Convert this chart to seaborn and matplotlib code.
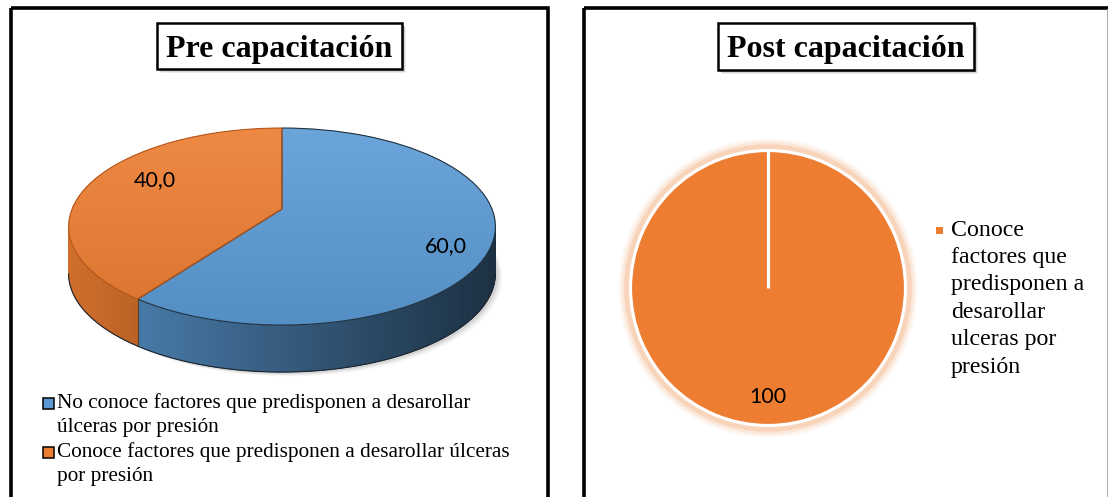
import numpy as np
import matplotlib
matplotlib.use("Agg")
import matplotlib.pyplot as plt
import seaborn as sns
from matplotlib.patches import Rectangle, Polygon, PathPatch
from matplotlib.transforms import Transform
from matplotlib.colors import to_rgb
import matplotlib.patheffects as pe

# ---------------- data ----------------
titles = ["Pre capacitación", "Post capacitación"]
pre_categories = ["No conoce factores que predisponen a desarollar\núlceras por presión",
                  "Conoce factores que predisponen a desarollar úlceras\npor presión"]
pre_values = [60.0, 40.0]
post_categories = ["Conoce\nfactores que\npredisponen a\ndesarollar\nulceras por\npresión"]
post_values = [100.0]

# ---------------- style ----------------
sns.set_theme(style="white")
palette = sns.color_palette(["#5B9BD5", "#ED7D31"])
plt.rcParams["font.family"] = ["Liberation Serif", "DejaVu Serif"]
LABEL_FONT = ["Lato", "DejaVu Sans"]

W, H = 1108, 497
fig = plt.figure(figsize=(W / 100, H / 100), dpi=100)
fig.patch.set_facecolor("white")


def px_axes():
    ax = fig.add_axes([0, 0, 1, 1])
    ax.patch.set_alpha(0)
    return ax


def fix(ax, ydown=False):
    ax.set_aspect("auto")
    ax.set_xlim(0, W)
    ax.set_ylim((H, 0) if ydown else (0, H))
    ax.axis("off")


class Persp(Transform):
    """Perspective view of a unit pie lying on a table (y = depth)."""
    input_dims = output_dims = 2
    is_separable = False
    has_inverse = False

    def __init__(self, cx, cy, rx, ry, k, drop=0.0):
        super().__init__()
        self.cx, self.cy, self.rx, self.ry, self.k, self.drop = cx, cy, rx, ry, k, drop

    def transform_non_affine(self, values):
        v = np.asarray(values, float).reshape(-1, 2)
        s = 1.0 + self.k * v[:, 1]
        return np.column_stack([self.cx + self.rx * v[:, 0] / s,
                                self.cy + self.ry * v[:, 1] / s - self.drop])


# ---------------- left: 3D pie ----------------
ax1 = px_axes()
K = 0.178
top = Persp(282, 288, 210, 95.4, K)
bottom = Persp(282, 288, 210, 95.4, K, drop=47)

wedges1, _, autotexts1 = ax1.pie(
    pre_values, colors=palette, startangle=90, counterclock=False,
    radius=1, center=(0, 0),
    autopct=lambda p: f"{p:.1f}".replace(".", ","),
    wedgeprops=dict(linewidth=0.8),
    textprops=dict(family=LABEL_FONT, fontsize=15.5, color="black"))
fix(ax1)

edge_cols = ["#22313f", "#b5561c"]
xmin_px, xmax_px = 68.0, 495.0


def shade(base, xpx):
    f = 0.88 - 0.57 * (xpx - xmin_px) / (xmax_px - xmin_px)
    f = float(np.clip(f, 0.3, 1.0))
    return tuple(np.clip(np.array(base) * f, 0, 1))


# soft shadow under the pie
tt = np.radians(np.linspace(0, 360, 361))
for dx, al in [(7, 0.04), (5, 0.06), (3, 0.08)]:
    sh = Persp(282 + dx, 288 - dx * 0.6, 210, 95.4, K, drop=47)
    pts = sh.transform(np.column_stack([np.cos(tt), np.sin(tt)]))
    ax1.add_patch(Polygon(pts, closed=True, facecolor="black", alpha=al,
                          edgecolor="none", zorder=1))

yy = np.linspace(0, 1, 256)[:, None]
for w, base, ec in zip(wedges1, palette, edge_cols):
    w.set_transform(top + ax1.transData)
    w.set_edgecolor("none")
    w.set_zorder(3)
    # gentle vertical gradient on the top face (lighter at the back)
    b = np.array(to_rgb(base))
    light, dark = b + (1 - b) * 0.10, b * 0.92
    grad = (light[None, None, :] * (1 - yy[..., None]) + dark[None, None, :] * yy[..., None])
    grad = np.repeat(grad, 2, axis=1)
    im = ax1.imshow(grad, extent=(60, 505, 170, 372), origin="upper",
                    aspect="auto", zorder=3.1, interpolation="bilinear")
    im.set_clip_path(w)
    ax1.add_patch(PathPatch(w.get_path(), transform=top + ax1.transData,
                            fill=False, edgecolor=ec, lw=0.8, zorder=3.3))
    # visible side wall
    t = np.radians(np.linspace(w.theta1, w.theta2, 721))
    t = t[np.sin(t) <= -K]
    if len(t) < 2:
        continue
    unit = np.column_stack([np.cos(t), np.sin(t)])
    tp = top.transform(unit)
    bp = bottom.transform(unit)
    step = 4
    for j in range(0, len(t) - 1, step):
        j2 = min(j + step + 1, len(t) - 1)
        quad = np.vstack([tp[j:j2 + 1], bp[j:j2 + 1][::-1]])
        col = shade(base, tp[j:j2 + 1, 0].mean())
        ax1.add_patch(Polygon(quad, closed=True, facecolor=col, edgecolor=col,
                              linewidth=0.4, zorder=2))
    ax1.plot(bp[:, 0], bp[:, 1], color="#1b2530", lw=0.8, zorder=2.5)
ax1.set_xlim(0, W)
ax1.set_ylim(0, H)

# seam lines on the side
for w in wedges1:
    for th in (w.theta1, w.theta2):
        r = np.radians(th)
        if np.sin(r) < -0.2:
            p0 = top.transform([[np.cos(r), np.sin(r)]])[0]
            p1 = bottom.transform([[np.cos(r), np.sin(r)]])[0]
            ax1.plot([p0[0], p1[0]], [p0[1], p1[1]], color="#5a3a20", lw=0.7, zorder=2.6)

label_pos = [(0.73, -0.36), (-0.64, 0.32)]
for txt, pos in zip(autotexts1, label_pos):
    txt.set_position(pos)
    txt.set_transform(top + ax1.transData)
    txt.set_zorder(5)

# ---------------- right: flat pie ----------------
ax2 = px_axes()
post_color = palette[1]
wedges2, _, autotexts2 = ax2.pie(
    post_values, colors=[post_color], startangle=90, counterclock=False,
    radius=137.5, center=(768, 209), pctdistance=0.79,
    autopct=lambda p: f"{p:.0f}",
    wedgeprops=dict(edgecolor="white", linewidth=2.3),
    textprops=dict(family=LABEL_FONT, fontsize=15.5, color="black"))
fix(ax2)
glow = "#F4B183"
for w in wedges2:
    w.set_path_effects([
        pe.Stroke(linewidth=17, foreground=glow, alpha=0.12),
        pe.Stroke(linewidth=13, foreground=glow, alpha=0.2),
        pe.Stroke(linewidth=9, foreground=glow, alpha=0.35),
        pe.Normal()])
    r0 = np.radians(w.theta1)
    cx, cy = w.center
    ax2.plot([cx, cx + w.r * np.cos(r0)], [cy, cy + w.r * np.sin(r0)],
             color="white", lw=2.3, solid_capstyle="butt", zorder=3)

# ---------------- overlay: frames, titles, legends ----------------
ov = px_axes()
fix(ov, ydown=True)
ov.set_zorder(10)

bw = 2.6
ov.add_patch(Rectangle((10.5, 7.5), 537.5, 530, fill=False, edgecolor="black", lw=bw))
ov.add_patch(Rectangle((584, 7.5), 560, 530, fill=False, edgecolor="black", lw=bw))
ov.plot([1106.5, 1106.5], [9, H], color="#b0b0b0", lw=0.8)

boxes = [(157, 23, 245, 46), (718, 23, 256, 47)]
for title, (bx, by, bwid, bh) in zip(titles, boxes):
    for k, al in [(4, 0.07), (3, 0.1), (2, 0.15)]:
        ov.add_patch(Rectangle((bx + k, by + k), bwid, bh, facecolor="black",
                               alpha=al, edgecolor="none"))
    ov.add_patch(Rectangle((bx, by), bwid, bh, facecolor="white",
                           edgecolor="black", lw=1.8))
    ov.text(bx + bwid / 2, by + 34, title, ha="center", va="baseline",
            fontsize=23, fontweight="bold", color="black")

# left legend
leg_y = [403, 452]
for lab, col, y0 in zip(pre_categories, palette, leg_y):
    ov.add_patch(Rectangle((43, y0 - 5), 10.5, 10.5, facecolor=col,
                           edgecolor="black", lw=1.1))
    for i, line in enumerate(lab.split("\n")):
        ov.text(57, y0 + i * 24.7, line, ha="left", va="center",
                fontsize=15.3, color="black")

# right legend
for lab, col in zip(post_categories, [post_color]):
    ov.add_patch(Rectangle((936, 226.5), 7, 7, facecolor=col, edgecolor="none"))
    for i, line in enumerate(lab.split("\n")):
        ov.text(951, 230 + i * 27.4, line, ha="left", va="center",
                fontsize=17.2, color="black")

fig.savefig("out.png", dpi=100, facecolor="white")
